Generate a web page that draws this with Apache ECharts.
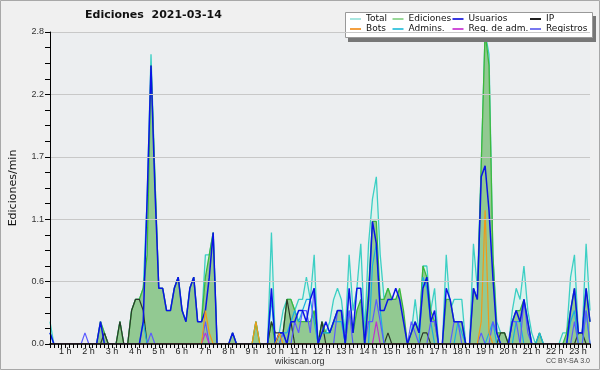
<!DOCTYPE html>
<html>
<head>
<meta charset="utf-8">
<script src="https://cdn.jsdelivr.net/npm/echarts@6/dist/echarts.min.js"></script>
<style>
html,body{margin:0;padding:0;background:#f0f0f0;}
#c{width:600px;height:370px;}
</style>
</head>
<body>
<div id="c"></div>
<script>
// 10-minute buckets from 00:00 (140 points)
const hourLabels = ['1 h','2 h','3 h','4 h','5 h','6 h','7 h','8 h','9 h','10 h','11 h','12 h','13 h','14 h','15 h','16 h','17 h','18 h','19 h','20 h','21 h','22 h','23 h'];

const total = [
 .2,0,0,0,0,0,  0,0,0,0,0,0,  0,.2,.1,0,0,0,  .2,0,0,.3,.4,.4,
 .5,1.3,2.6,1.5,.5,.5,  .3,.3,.5,.6,.3,.2,  .5,.6,.2,.2,.8,.8,  1.0,0,0,0,0,.1,
 0,0,0,0,0,.2,  0,0,0,1.0,0,.1,  .3,.4,.4,.3,.4,.4,  .6,.4,.8,0,.2,.1,
 .2,.4,.5,.4,.1,.8,  .3,.5,.9,.1,.9,1.3,  1.5,.8,.4,.5,.4,.4,  .4,.2,0,.1,.4,.1,
 .7,.7,.3,.5,0,0,  .8,.3,.4,.4,.4,0,  0,.9,.5,1.6,2.8,2.6,  .8,.2,.1,.1,0,.3,
 .5,.4,.7,.3,.1,0,  .1,0,0,0,0,0,  .1,.1,.6,.8,.1,.1,  .9,.3
];
const ediciones = [
 0,0,0,0,0,0,  0,0,0,0,0,0,  0,.2,.1,0,0,0,  .2,0,0,.3,.4,.4,
 .5,.8,2.5,1.5,.5,.5,  .3,.3,.5,.6,.3,.2,  .5,.6,.2,.2,.6,.8,  1.0,0,0,0,0,.1,
 0,0,0,0,0,.2,  0,0,0,.2,0,.1,  .1,.4,.4,.3,.2,.2,  .2,.2,.3,0,.2,.1,
 .1,.2,.3,.3,0,.3,  .1,.3,.4,0,.5,1.1,  1.1,.4,.4,.5,.4,.4,  .5,.3,0,.1,.2,.1,
 .7,.6,.3,.2,0,0,  .4,.4,.2,.2,.2,0,  0,.5,.4,1.6,2.8,2.5,  .8,.1,.1,.1,0,.2,
 .3,.3,.4,.2,0,0,  .1,0,0,0,0,0,  0,.1,.3,.5,.1,.1,  .5,.2
];
const usuarios = [
 .1,0,0,0,0,0,  0,0,0,0,0,0,  0,.2,0,0,0,0,  0,0,0,0,0,0,
 .2,1.3,2.5,1.4,.5,.5,  .3,.3,.5,.6,.3,.2,  .5,.6,.2,.2,.3,.6,  1.0,0,0,0,0,.1,
 0,0,0,0,0,0,  0,0,0,.5,0,.1,  .1,0,.2,.2,.3,.3,  .2,.4,.5,0,.1,.2,
 .1,.2,.3,.3,0,.5,  .1,.5,.5,0,.4,1.1,  .9,.3,.3,.4,.4,.5,  .4,.2,0,.1,.2,.1,
 .5,.6,.2,.3,0,0,  .5,.4,.2,.2,.2,0,  0,.5,.4,1.5,1.6,1.2,  .6,.1,0,0,0,.2,
 .3,.2,.4,.2,0,0,  0,0,0,0,0,0,  0,0,.3,.5,.1,.1,  .5,.2
];
const ip = [
 0,0,0,0,0,0,  0,0,0,0,0,0,  0,0,.1,0,0,0,  .2,0,0,.3,.4,.4,
 .3,0,0,0,0,0,  0,0,0,0,0,0,  0,0,0,0,0,0,  0,0,0,0,0,0,
 0,0,0,0,0,0,  0,0,0,.2,.1,.1,  .1,.4,.2,0,0,0,  0,0,0,0,.2,0,
 0,0,0,0,0,0,  0,0,0,0,0,0,  0,0,0,.1,0,0,  0,0,0,0,0,0,
 .1,.1,0,0,0,0,  0,0,0,0,0,0,  0,0,0,0,0,0,  0,0,.1,.1,0,0,
 0,0,0,0,0,0,  0,0,0,0,0,0,  0,0,0,0,.1,.1,  0,0
];
const bots = [
 0,0,0,0,0,0,  0,0,0,0,0,0,  0,0,0,0,0,0,  0,0,0,0,0,0,
 0,0,0,0,0,0,  0,0,0,0,0,0,  0,0,0,0,.3,.1,  0,0,0,0,0,0,
 0,0,0,0,0,.2,  0,0,0,0,0,.1,  0,0,0,0,0,0,  0,0,0,0,0,0,
 0,0,0,0,0,0,  0,0,0,0,0,0,  0,0,0,0,0,0,  0,0,0,0,0,0,
 0,0,0,0,0,0,  0,0,0,0,0,0,  0,0,0,.2,1.2,.1,  0,0,0,0,0,0,
 0,0,0,0,0,0,  0,0,0,0,0,0,  0,0,0,0,0,0,  0,0
];
const admins = [
 .1,0,0,0,0,0,  0,0,0,0,0,0,  0,0,0,0,0,0,  0,0,0,0,0,0,
 .2,0,0,0,0,0,  0,0,0,0,0,0,  0,0,0,0,0,0,  0,0,0,0,0,0,
 0,0,0,0,0,0,  0,0,0,.4,0,0,  .1,.1,.2,.3,.2,.3,  .4,.4,.2,0,.1,.1,
 .1,.2,.2,.2,0,0,  0,0,0,0,0,.7,  .9,.3,0,0,0,0,  0,0,0,0,0,0,
 .6,.5,.2,0,0,0,  0,0,0,.2,.1,0,  0,0,0,0,0,.1,  .2,0,0,0,0,0,
 .2,.2,0,0,0,0,  .1,0,0,0,0,0,  0,0,.2,.3,0,0,  .3,0
];
const regAdm = [
 0,0,0,0,0,0,  0,0,0,0,0,0,  0,0,0,0,0,0,  0,0,0,0,0,0,
 0,0,0,0,0,0,  0,0,0,0,0,0,  0,0,0,0,.1,0,  0,0,0,0,0,0,
 0,0,0,0,0,0,  0,0,0,0,0,0,  0,0,0,0,0,0,  0,0,0,0,0,0,
 0,0,0,0,0,0,  0,0,0,0,0,0,  .2,0,0,0,0,0,  0,0,0,0,0,0,
 0,0,0,0,0,0,  0,0,0,0,0,0,  0,0,0,0,0,0,  0,0,0,0,0,0,
 0,0,0,0,0,0,  0,0,0,0,0,0,  0,0,0,0,0,0,  0,0
];
const registros = [
 0,0,0,0,0,0,  0,0,0,.1,0,0,  0,0,0,0,0,0,  0,0,0,0,0,0,
 0,0,.1,0,0,0,  0,0,0,0,0,0,  0,0,0,0,.2,0,  0,0,0,0,0,0,
 0,0,0,0,0,0,  0,0,0,0,0,0,  .1,0,0,.2,.1,.3,  .3,.1,.5,0,0,0,
 0,0,.3,.3,0,.3,  0,0,0,0,.2,.2,  .4,.2,0,0,0,0,  0,0,0,.2,.1,0,
 0,0,.2,.2,0,0,  0,0,.2,.2,0,0,  0,0,0,.1,0,0,  .2,.1,0,0,0,.2,
 .2,0,.4,.1,0,0,  0,0,0,0,0,0,  0,0,0,.2,0,0,  .3,0
];

const times = [];
for (let i = 0; i < total.length; i++) {
  const h = Math.floor(i / 6), m = (i % 6) * 10;
  times.push((h < 10 ? '0' : '') + h + ':' + (m < 10 ? '0' : '') + m);
}

const narrow = "'Liberation Sans Narrow', 'Liberation Sans', sans-serif";
function line(name, data, color, width, z, area) {
  const s = {
    name, type: 'line', data, symbol: 'none', z,
    lineStyle: { color, width }, itemStyle: { color },
    emphasis: { disabled: true }, animation: false
  };
  if (area) s.areaStyle = { color: area, opacity: 1 };
  return s;
}
function legendCol(left, names, colors) {
  return {
    orient: 'vertical', left, top: 14, itemGap: 0, itemWidth: 11, itemHeight: 2,
    icon: 'rect', selectedMode: false, padding: 0, z: 10,
    textStyle: { fontFamily: 'DejaVu Sans', fontSize: 9, color: '#111', lineHeight: 10, padding: [0,0,0,0] },
    itemStyle: { borderWidth: 0 },
    data: names.map((n, k) => ({ name: n, itemStyle: { color: colors[k] } }))
  };
}

const chart = echarts.init(document.getElementById('c'), null, { renderer: 'canvas' });
chart.setOption({
  backgroundColor: '#f0f0f0',
  animation: false,
  title: {
    text: 'Ediciones  2021-03-14', left: 85, top: 10, padding: 0,
    textStyle: { fontFamily: 'DejaVu Sans', fontWeight: 'bold', fontSize: 11, color: '#111' }
  },
  graphic: [
    { type: 'rect', z: -10, silent: true, shape: { x: 0.5, y: 0.5, width: 599, height: 369 }, style: { fill: 'none', stroke: '#a8a8a8', lineWidth: 1 } },
    { type: 'rect', z: 5, silent: true, shape: { x: 348, y: 16, width: 248, height: 26 }, style: { fill: '#777' } },
    { type: 'rect', z: 6, silent: true, shape: { x: 345.5, y: 12.5, width: 247, height: 25 }, style: { fill: '#fff', stroke: '#999', lineWidth: 1 } },
    { type: 'text', z: 6, silent: true, left: 275, top: 357, style: { text: 'wikiscan.org', fontFamily: 'Liberation Sans', fontSize: 9, fill: '#333' } },
    { type: 'text', z: 6, silent: true, right: 10, top: 358, style: { text: 'CC BY-SA 3.0', fontFamily: narrow, fontSize: 7, fill: '#444' } }
  ],
  legend: [
    legendCol(350, ['Total', 'Bots'], ['#a8e6e0', '#f4a040']),
    legendCol(392.5, ['Ediciones', 'Admins.'], ['#98d898', '#48c8e0']),
    legendCol(452.5, ['Usuarios', 'Reg. de adm.'], ['#3838e0', '#d050d8']),
    legendCol(530, ['IP', 'Registros'], ['#202020', '#7878f0'])
  ],
  grid: { left: 46, right: 10, top: 32, bottom: 26, show: true, backgroundColor: '#eceef0', borderWidth: 0 },
  xAxis: {
    type: 'category', data: times, boundaryGap: false, z: 20,
    axisLine: { lineStyle: { color: '#000', width: 1.5 } },
    axisTick: { interval: 0, length: 4, lineStyle: { color: '#000', width: 1 } },
    axisLabel: {
      interval: (idx) => idx > 0 && idx % 6 === 0,
      formatter: (v, idx) => hourLabels[idx / 6 - 1],
      fontFamily: narrow, fontSize: 9, color: '#222', margin: 3, padding: [0, 16, 0, 0]
    },
    splitLine: { show: false }
  },
  yAxis: {
    type: 'value', min: 0, max: 2.8, interval: 0.56, z: 20,
    name: 'Ediciones/min', nameLocation: 'middle', nameGap: 31, nameRotate: 90,
    nameTextStyle: { fontFamily: 'DejaVu Sans', fontSize: 11, color: '#111' },
    axisLine: { show: true, lineStyle: { color: '#000', width: 1 } },
    axisTick: { show: true, length: 5, lineStyle: { color: '#000' } },
    minorTick: { show: true, splitNumber: 4, length: 5, lineStyle: { color: '#000' } },
    axisLabel: { formatter: (v) => v.toFixed(1), fontFamily: narrow, fontSize: 9, color: '#333', margin: 6 },
    splitLine: { show: true, lineStyle: { color: '#c8c8c8', width: 1 } }
  },
  series: [
    line('Total', total, '#3ccfc4', 1.3, 1, '#dcf2ee'),
    line('Ediciones', ediciones, '#3cb83c', 1.3, 2, '#92c992'),
    line('IP', ip, '#2a3a2a', 1.2, 3),
    line('Admins.', admins, '#1ab0e0', 1.2, 4),
    line('Registros', registros, '#5a5aff', 1.2, 5),
    line('Reg. de adm.', regAdm, '#c030d0', 1.2, 6),
    line('Usuarios', usuarios, '#0a14e6', 1.5, 7),
    line('Bots', bots, '#f09a18', 1.2, 8)
  ]
});
</script>
</body>
</html>
